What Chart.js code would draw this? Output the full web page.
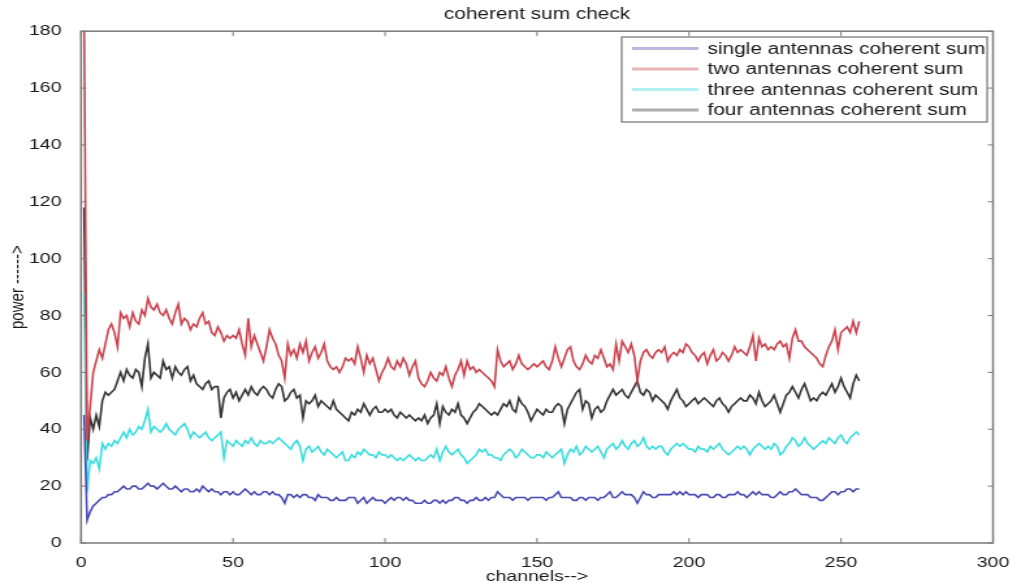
<!DOCTYPE html>
<html>
<head>
<meta charset="utf-8">
<title>coherent sum check</title>
<script src="https://cdn.jsdelivr.net/npm/chart.js@4.4.1/dist/chart.umd.min.js"></script>
<style>
  html, body { margin: 0; padding: 0; background: #fff; overflow: hidden; }
  /* the figure is laid out narrow and stretched sideways, like the exported plot */
  #wrap { width: 785px; height: 588px; transform: scaleX(1.3006); transform-origin: 0 0; }
</style>
</head>
<body>
<div id="wrap"><canvas id="chart" width="785" height="588"></canvas></div>
<script>
// power per channel (channels 1..256)
const singleSum = [
  45, 8, 11, 13, 14, 15, 16, 16, 17, 17,
  18, 18, 19, 20, 19, 19, 20, 20, 19, 19,
  20, 21, 20, 20, 19, 20, 21, 20, 19, 19,
  20, 19, 18, 19, 19, 18, 18, 19, 18, 20,
  19, 18, 19, 18, 18, 17, 18, 18, 17, 18,
  17, 17, 18, 19, 18, 17, 18, 17, 17, 18,
  18, 17, 18, 17, 17, 16, 14, 17, 17, 16,
  17, 16, 17, 17, 16, 16, 15, 17, 16, 16,
  16, 15, 15, 16, 15, 15, 15, 16, 16, 16,
  14, 15, 16, 14, 15, 16, 15, 15, 15, 14,
  15, 16, 15, 16, 16, 15, 16, 15, 15, 14,
  14, 14, 15, 14, 14, 15, 15, 14, 15, 14,
  15, 15, 16, 16, 15, 15, 14, 15, 15, 16,
  15, 15, 16, 15, 16, 16, 18, 17, 16, 16,
  16, 15, 16, 16, 16, 16, 15, 16, 16, 16,
  16, 16, 15, 16, 16, 17, 18, 16, 16, 16,
  16, 15, 15, 16, 16, 15, 16, 16, 16, 15,
  16, 16, 17, 18, 16, 16, 17, 18, 17, 17,
  17, 16, 14, 16, 18, 17, 17, 16, 16, 17,
  17, 17, 17, 17, 18, 17, 18, 17, 18, 17,
  17, 17, 16, 17, 17, 17, 16, 16, 17, 17,
  16, 16, 17, 17, 17, 18, 17, 17, 16, 17,
  18, 17, 18, 17, 17, 17, 16, 16, 17, 18,
  17, 17, 18, 18, 19, 18, 17, 17, 17, 16,
  16, 16, 15, 15, 16, 17, 18, 18, 17, 18,
  18, 19, 19, 18, 19, 19
];

const twoSum = [
  186, 36, 48, 60, 64, 68, 65, 70, 75, 77,
  74, 69, 81, 79, 80, 76, 81, 78, 77, 82,
  80, 86, 83, 82, 84, 81, 80, 82, 79, 77,
  81, 84, 77, 79, 78, 75, 77, 76, 79, 81,
  77, 78, 74, 73, 76, 74, 71, 73, 72, 73,
  72, 75, 70, 66, 79, 69, 73, 70, 67, 64,
  69, 75, 72, 70, 66, 64, 58, 70, 66, 68,
  65, 70, 67, 71, 64, 67, 69, 65, 67, 70,
  64, 62, 61, 62, 60, 62, 65, 64, 65, 63,
  69, 65, 60, 66, 63, 65, 61, 57, 60, 62,
  65, 62, 61, 64, 62, 65, 63, 59, 62, 64,
  58, 56, 55, 57, 60, 58, 57, 60, 59, 62,
  58, 55, 59, 61, 64, 59, 64, 61, 62, 60,
  61, 60, 59, 58, 57, 55, 68, 64, 62, 63,
  64, 61, 63, 66, 63, 62, 61, 62, 63, 62,
  63, 64, 62, 61, 64, 69, 65, 62, 65, 68,
  69, 64, 62, 61, 63, 66, 64, 63, 66, 65,
  68, 65, 62, 63, 61, 70, 64, 71, 69, 67,
  70, 66, 57, 64, 67, 68, 66, 65, 67, 68,
  67, 69, 64, 66, 67, 66, 68, 67, 70, 69,
  67, 66, 64, 66, 67, 63, 66, 68, 64, 65,
  67, 66, 64, 66, 69, 67, 68, 67, 66, 69,
  73, 64, 72, 69, 70, 68, 69, 68, 70, 71,
  69, 70, 65, 72, 75, 71, 71, 69, 68, 67,
  66, 65, 63, 62, 66, 69, 71, 75, 68, 74,
  75, 76, 74, 78, 74, 78
];

const threeSum = [
  88, 18, 29, 28, 30, 26, 35, 33, 35, 34,
  36, 35, 37, 39, 37, 40, 38, 39, 41, 40,
  43, 47, 39, 41, 40, 39, 40, 42, 40, 39,
  38, 40, 41, 42, 40, 37, 39, 38, 37, 38,
  39, 37, 36, 37, 38, 39, 30, 36, 35, 34,
  36, 35, 34, 36, 35, 37, 35, 34, 36, 35,
  35, 36, 35, 36, 37, 36, 35, 34, 33, 35,
  36, 34, 29, 33, 34, 32, 33, 34, 32, 31,
  33, 32, 31, 30, 31, 32, 29, 29, 31, 30,
  32, 31, 33, 32, 31, 31, 30, 32, 31, 31,
  30, 31, 30, 29, 30, 29, 30, 31, 30, 29,
  30, 29, 29, 30, 31, 30, 33, 29, 32, 34,
  32, 31, 32, 33, 31, 30, 28, 29, 30, 31,
  33, 32, 33, 31, 31, 30, 30, 29, 31, 32,
  33, 32, 30, 31, 33, 32, 31, 30, 30, 31,
  31, 30, 32, 31, 30, 31, 32, 33, 28, 31,
  33, 32, 34, 31, 32, 34, 33, 32, 33, 34,
  32, 30, 33, 34, 35, 33, 34, 36, 34, 33,
  35, 36, 34, 35, 37, 34, 33, 34, 33, 34,
  34, 32, 31, 33, 34, 35, 34, 35, 34, 33,
  33, 32, 34, 33, 33, 32, 34, 33, 34, 35,
  33, 32, 31, 32, 33, 34, 33, 34, 33, 31,
  33, 34, 35, 34, 33, 34, 33, 35, 34, 31,
  32, 34, 35, 37, 36, 34, 35, 37, 35, 34,
  33, 34, 35, 36, 35, 37, 36, 35, 37, 38,
  36, 35, 37, 38, 39, 38
];

const fourSum = [
  118, 29, 44, 40, 45, 41, 50, 53, 52, 53,
  54, 57, 60, 57, 61, 59, 58, 61, 60, 55,
  65, 70, 58, 60, 59, 58, 64, 61, 62, 58,
  62, 60, 59, 61, 62, 57, 59, 56, 55, 54,
  56, 57, 54, 55, 55, 44, 51, 53, 54, 51,
  53, 50, 52, 54, 52, 55, 53, 52, 54, 55,
  54, 52, 51, 54, 56, 55, 50, 51, 53, 54,
  51, 52, 44, 50, 49, 50, 52, 48, 50, 49,
  48, 47, 50, 47, 46, 45, 44, 43, 46, 45,
  47, 46, 49, 47, 45, 47, 48, 46, 46, 47,
  46, 47, 45, 44, 46, 45, 44, 45, 44, 43,
  44, 43, 45, 42, 44, 45, 49, 42, 48, 46,
  45, 47, 46, 49, 45, 44, 42, 44, 46, 47,
  49, 48, 47, 46, 45, 46, 45, 47, 49, 48,
  50, 47, 46, 51, 49, 48, 46, 43, 45, 47,
  46, 45, 47, 46, 46, 48, 49, 48, 42, 47,
  49, 51, 53, 54, 47, 50, 49, 44, 47, 48,
  46, 47, 50, 52, 54, 52, 53, 54, 52, 51,
  53, 55, 57, 53, 52, 54, 53, 50, 52, 51,
  50, 49, 47, 50, 52, 54, 51, 50, 48, 49,
  50, 51, 49, 50, 51, 50, 49, 48, 50, 51,
  49, 48, 46, 48, 49, 50, 51, 50, 50, 52,
  51, 49, 53, 50, 48, 49, 50, 52, 49, 46,
  49, 52, 53, 55, 53, 51, 54, 56, 53, 50,
  51, 50, 52, 53, 52, 54, 56, 53, 55, 58,
  55, 53, 51, 56, 59, 57
];

const seriesNames = [
  'single antennas coherent sum',
  'two antennas coherent sum',
  'three antennas coherent sum',
  'four antennas coherent sum'
];
const seriesColors = ['#4a4ab4', '#c9434e', '#3cdcdf', '#353535'];

const xTicks = [0, 50, 100, 150, 200, 250, 300];
const yTicks = [0, 20, 40, 60, 80, 100, 120, 140, 160, 180];

const channels = singleSum.map((_, i) => i + 1);
const FONT = '"Liberation Sans", Arial, sans-serif';

function toPoints(values) {
  return values.map((v, i) => ({ x: channels[i], y: v }));
}

// box around the axes with inward tick marks on all four sides
const axesBox = {
  id: 'axesBox',
  afterDatasetsDraw(chart) {
    const { ctx, chartArea: a, scales } = chart;
    const len = 5;
    ctx.save();
    ctx.strokeStyle = '#7a7a7a';
    ctx.lineWidth = 1.5;
    ctx.strokeRect(a.left, a.top, a.right - a.left, a.bottom - a.top);
    ctx.lineWidth = 1;
    ctx.beginPath();
    scales.x.ticks.forEach(t => {
      const px = scales.x.getPixelForValue(t.value);
      ctx.moveTo(px, a.bottom); ctx.lineTo(px, a.bottom - len);
      ctx.moveTo(px, a.top); ctx.lineTo(px, a.top + len);
    });
    scales.y.ticks.forEach(t => {
      const py = scales.y.getPixelForValue(t.value);
      ctx.moveTo(a.left, py); ctx.lineTo(a.left + len * 0.8, py);
      ctx.moveTo(a.right, py); ctx.lineTo(a.right - len * 0.8, py);
    });
    ctx.stroke();
    ctx.restore();
  }
};

// legend box in the top right corner of the axes
const boxLegend = {
  id: 'boxLegend',
  afterDraw(chart) {
    const { ctx } = chart;
    const left = 478, right = 759, top = 37, bottom = 122;
    ctx.save();
    ctx.fillStyle = '#fff';
    ctx.fillRect(left, top, right - left, bottom - top);
    ctx.strokeStyle = '#555';
    ctx.lineWidth = 1;
    ctx.strokeRect(left, top, right - left, bottom - top);
    ctx.font = '16px ' + FONT;
    ctx.textBaseline = 'middle';
    chart.data.datasets.forEach((ds, i) => {
      const y = 48.5 + i * 20.5;
      ctx.globalAlpha = 0.4;
      ctx.strokeStyle = ds.borderColor;
      ctx.lineWidth = 3;
      ctx.beginPath();
      ctx.moveTo(486, y);
      ctx.lineTo(537, y);
      ctx.stroke();
      ctx.globalAlpha = 1;
      ctx.fillStyle = '#1a1a1a';
      ctx.fillText(ds.label, 544, y + 1);
    });
    ctx.restore();
  }
};

new Chart(document.getElementById('chart'), {
  type: 'line',
  data: {
    datasets: [singleSum, twoSum, threeSum, fourSum].map((vals, i) => ({
      label: seriesNames[i],
      data: toPoints(vals),
      borderColor: seriesColors[i],
      backgroundColor: seriesColors[i],
      borderWidth: 1.6,
      pointRadius: 0,
      tension: 0,
      fill: false
    }))
  },
  options: {
    responsive: false,
    animation: false,
    devicePixelRatio: 1,
    layout: { padding: { left: 0, right: 21.5, top: 0, bottom: 0 } },
    plugins: {
      legend: { display: false },
      tooltip: { enabled: false },
      title: {
        display: true,
        fullSize: false,
        text: 'coherent sum check',
        color: '#1a1a1a',
        font: { family: FONT, size: 16, weight: 'normal' },
        padding: { top: 5, bottom: 7 }
      }
    },
    scales: {
      x: {
        type: 'linear',
        min: 0,
        max: 300,
        afterBuildTicks: s => { s.ticks = xTicks.map(v => ({ value: v })); },
        afterFit: s => { s.height = 45; },
        grid: { display: false },
        border: { display: false },
        ticks: {
          color: '#1a1a1a',
          padding: 3,
          maxRotation: 0,
          font: { family: FONT, size: 15 }
        },
        title: {
          display: true,
          text: 'channels-->',
          color: '#1a1a1a',
          font: { family: FONT, size: 15 },
          padding: { top: 0, bottom: 2 }
        }
      },
      y: {
        min: 0,
        max: 180,
        afterBuildTicks: s => { s.ticks = yTicks.map(v => ({ value: v })); },
        afterFit: s => { s.width = 62.3; },
        grid: { display: false },
        border: { display: false },
        ticks: {
          color: '#1a1a1a',
          padding: 7,
          font: { family: FONT, size: 15 }
        },
        title: {
          display: true,
          text: 'power ------>',
          color: '#1a1a1a',
          font: { family: FONT, size: 15 },
          padding: { top: 5, bottom: 0 }
        }
      }
    }
  },
  plugins: [axesBox, boxLegend]
});
</script>
</body>
</html>
